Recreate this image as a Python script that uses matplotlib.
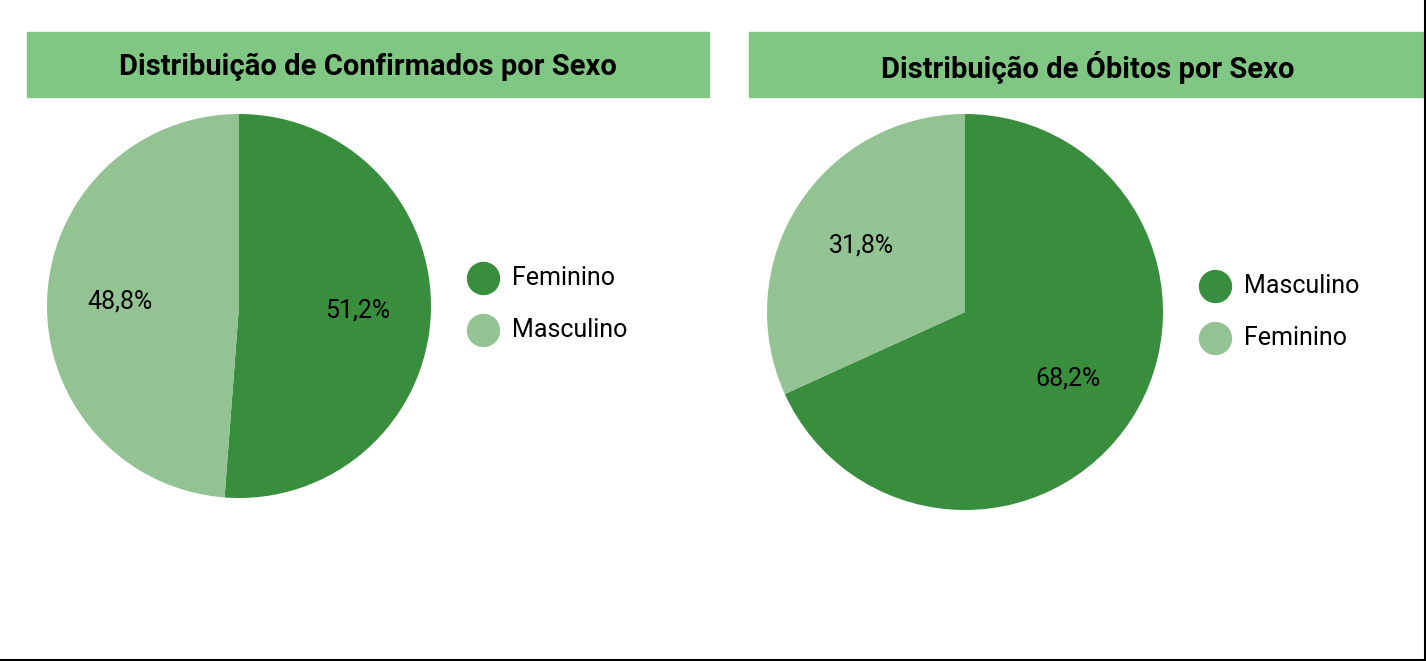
import matplotlib.pyplot as plt
from matplotlib.patches import Rectangle
from matplotlib.lines import Line2D

W, H = 1426, 661

conf_labels = ["Feminino", "Masculino"]
conf_values = [51.2, 48.8]
obitos_labels = ["Masculino", "Feminino"]
obitos_values = [68.2, 31.8]

dark = "#388e3c"
light = "#93c393"
banner = "#81c784"

plt.rcParams["font.family"] = "Roboto"

fig = plt.figure(figsize=(W / 100, H / 100), dpi=100)


def px_axes(x0, y0, w, h):
    return fig.add_axes([x0 / W, 1 - (y0 + h) / H, w / W, h / H])


def panel(bx0, bx1, title, labels, values, cx, cy, r, leg_x, leg_y):
    fig.patches.append(Rectangle((bx0 / W, 1 - 97 / H), (bx1 - bx0) / W, 65 / H,
                                 transform=fig.transFigure, color=banner))
    fig.text((bx0 + bx1) / 2 / W, 1 - 67 / H, title, ha="center", va="center",
             fontsize=21, fontweight="bold", color="black")
    ax = px_axes(cx - r, cy - r, 2 * r, 2 * r)
    ax.pie(values, colors=[dark, light], startangle=90, counterclock=False,
           autopct=lambda p: f"{p:.1f}".replace(".", ","), pctdistance=0.62,
           textprops={"fontsize": 18, "color": "black"}, radius=1)
    ax.set_xlim(-1, 1)
    ax.set_ylim(-1, 1)
    ax.set_aspect("equal")
    ax.axis("off")
    for i, (lab, c) in enumerate(zip(labels, [dark, light])):
        y = 1 - (leg_y + i * 52) / H
        fig.add_artist(Line2D([leg_x / W], [y], marker="o", markersize=23,
                              color=c, transform=fig.transFigure))
        fig.text((leg_x + 29) / W, y, lab, va="center", fontsize=18)


panel(27, 709, "Distribuição de Confirmados por Sexo", conf_labels, conf_values,
      239, 306, 192, 483, 278)
panel(749, 1426, "Distribuição de Óbitos por Sexo", obitos_labels, obitos_values,
      965, 312, 198, 1215, 286)

# fix percent sign
for t in fig.findobj(plt.Text):
    s = t.get_text()
    if s and s[0].isdigit() and "," in s and not s.endswith("%"):
        t.set_text(s + "%")

fig.add_artist(Line2D([0, 1], [1.5 / H, 1.5 / H], color="black", lw=1.5, transform=fig.transFigure))
fig.add_artist(Line2D([1 - 1.5 / W, 1 - 1.5 / W], [0, 1], color="black", lw=1.5, transform=fig.transFigure))

fig.savefig("out.png", dpi=100, facecolor="white")
